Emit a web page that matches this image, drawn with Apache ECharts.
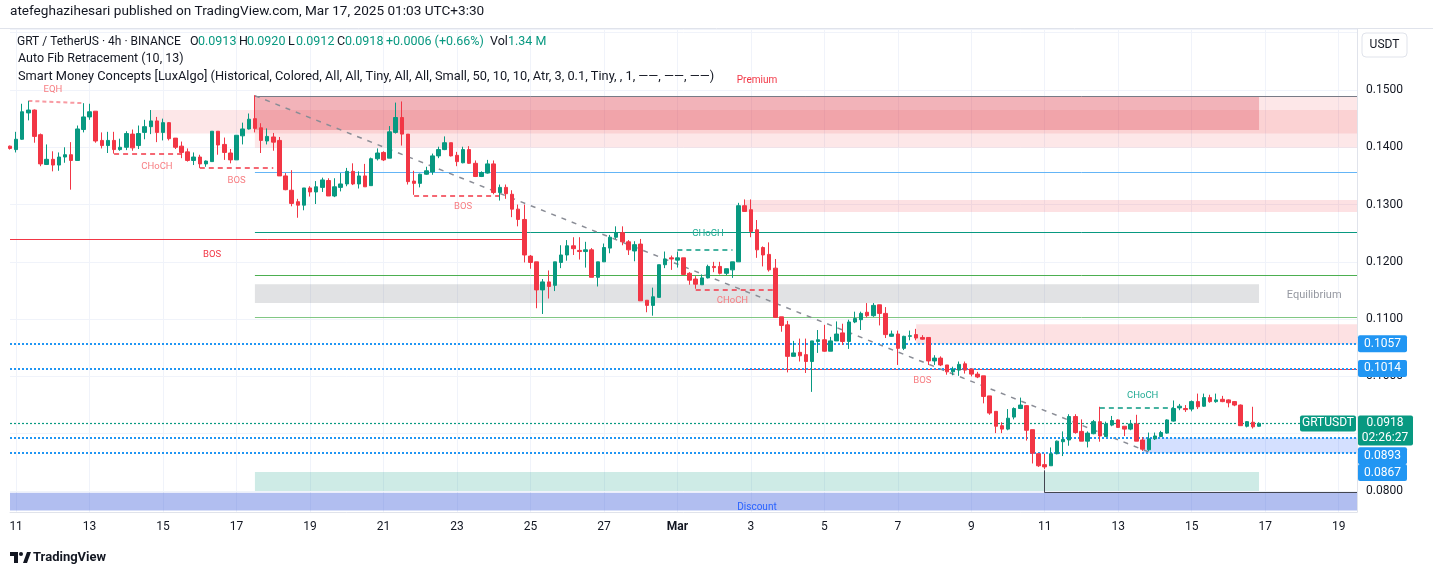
<!DOCTYPE html>
<html><head><meta charset="utf-8">
<script src="https://cdn.jsdelivr.net/npm/echarts/dist/echarts.min.js"></script>
<style>html,body{margin:0;padding:0;background:#fff}#c{width:1433px;height:576px}</style>
</head><body><div id="c"></div>
<script>
const tickLabels = ['11','13','15','17','19','21','23','25','27','Mar','3','5','7','9','11','13','15','17','19'];
const open = [
.1402,.1396,.1414,.1460,.1465,.1422,.1370,.1379,.1369,.1383,
.1387,.1377,.1431,.1453,.1463,.1412,.1403,.1412,.1396,.1400,
.1423,.1403,.1426,.1436,.1446,.1426,.1443,.1416,.1402,.1392,
.1377,.1383,.1371,.1375,.1428,.1405,.1390,.1378,.1420,.1432,
.1450,.1434,.1411,.1418,.1412,.1350,.1325,.1305,.1299,.1329,
.1322,.1330,.1342,.1315,.1330,.1336,.1358,.1336,.1350,.1333,
.1380,.1391,.1381,.1426,.1452,.1423,.1341,.1337,.1353,.1357,
.1385,.1396,.1408,.1386,.1373,.1396,.1372,.1349,.1355,.1371,
.1321,.1330,.1318,.1292,.1274,.1210,.1200,.1151,.1165,.1159,
.1199,.1212,.1228,.1220,.1218,.1221,.1173,.1200,.1224,.1243,
.1251,.1235,.1219,.1231,.1133,.1124,.1138,.1195,.1207,.1203,
.1207,.1180,.1170,.1160,.1172,.1192,.1192,.1180,.1186,.1200,
.1298,.1291,.1256,.1225,.1213,.1189,.1104,.1090,.1035,.1042,
.1038,.1026,.1061,.1064,.1044,.1062,.1076,.1061,.1095,.1099,
.1112,.1106,.1125,.1110,.1070,.1074,.1049,.1070,.1073,.1068,
.1068,.1027,.1032,.1020,.1008,.1011,.1022,.1013,.1004,.1001,
.0966,.0939,.0914,.0908,.0929,.0944,.0949,.0907,.0865,.0846,
.0844,.0865,.0886,.0889,.0930,.0904,.0887,.0900,.0921,.0895,
.0915,.0924,.0913,.0908,.0917,.0889,.0872,.0891,.0895,.0901,
.0922,.0945,.0944,.0943,.0956,.0948,.0963,.0956,.0960,.0959,
.0956,.0950,.0913,.0920,.0913];
const close = [
.1398,.1414,.1462,.1465,.1419,.1371,.1379,.1369,.1383,.1387,
.1377,.1432,.1453,.1462,.1411,.1403,.1412,.1396,.1400,.1424,
.1399,.1424,.1436,.1446,.1426,.1443,.1415,.1400,.1391,.1377,
.1383,.1371,.1376,.1428,.1404,.1391,.1378,.1421,.1432,.1449,
.1433,.1412,.1419,.1409,.1350,.1326,.1302,.1299,.1329,.1322,
.1331,.1343,.1315,.1331,.1336,.1358,.1336,.1350,.1331,.1380,
.1390,.1378,.1427,.1452,.1423,.1340,.1337,.1353,.1359,.1385,
.1396,.1408,.1385,.1375,.1396,.1372,.1349,.1356,.1371,.1321,
.1330,.1319,.1292,.1274,.1212,.1199,.1151,.1165,.1157,.1200,
.1212,.1228,.1223,.1218,.1221,.1173,.1200,.1225,.1243,.1251,
.1235,.1221,.1230,.1132,.1124,.1139,.1195,.1205,.1205,.1207,
.1178,.1168,.1161,.1172,.1192,.1190,.1180,.1188,.1200,.1298,
.1288,.1253,.1221,.1212,.1186,.1103,.1089,.1035,.1041,.1036,
.1026,.1062,.1064,.1044,.1062,.1074,.1061,.1095,.1101,.1110,
.1106,.1124,.1110,.1073,.1074,.1049,.1070,.1071,.1067,.1065,
.1027,.1032,.1020,.1008,.1013,.1021,.1011,.1004,.0999,.0965,
.0936,.0913,.0908,.0927,.0944,.0950,.0906,.0866,.0844,.0842,
.0865,.0887,.0890,.0930,.0902,.0887,.0901,.0921,.0896,.0917,
.0923,.0911,.0908,.0917,.0887,.0873,.0891,.0896,.0902,.0924,
.0944,.0948,.0942,.0956,.0947,.0963,.0956,.0959,.0956,.0954,
.0950,.0914,.0921,.0912,.0918];
const low = [
.1396,.1391,.1413,.1447,.1408,.1367,.1369,.1358,.1359,.1373,
.1326,.1377,.1426,.1448,.1408,.1398,.1390,.1389,.1394,.1395,
.1394,.1397,.1414,.1423,.1409,.1412,.1412,.1397,.1381,.1375,
.1369,.1364,.1366,.1375,.1387,.1378,.1372,.1378,.1405,.1431,
.1426,.1390,.1405,.1394,.1350,.1325,.1297,.1277,.1290,.1314,
.1301,.1322,.1315,.1313,.1323,.1332,.1334,.1328,.1331,.1333,
.1377,.1376,.1381,.1424,.1403,.1335,.1317,.1330,.1352,.1352,
.1381,.1395,.1384,.1367,.1372,.1371,.1348,.1348,.1354,.1318,
.1307,.1310,.1278,.1262,.1199,.1188,.1119,.1109,.1136,.1149,
.1189,.1202,.1212,.1204,.1190,.1173,.1157,.1200,.1215,.1240,
.1229,.1212,.1201,.1132,.1112,.1106,.1138,.1189,.1186,.1190,
.1177,.1160,.1153,.1160,.1171,.1182,.1178,.1177,.1172,.1200,
.1287,.1243,.1207,.1192,.1183,.1103,.1078,.1007,.1035,.1026,
.1006,.0973,.1041,.1043,.1044,.1062,.1055,.1048,.1093,.1081,
.1103,.1104,.1089,.1067,.1069,.1020,.1046,.1063,.1063,.1064,
.1020,.1020,.1018,.1003,.1002,.1001,.1005,.1000,.0997,.0953,
.0933,.0901,.0901,.0906,.0925,.0943,.0888,.0848,.0842,.0838,
.0844,.0864,.0861,.0879,.0900,.0887,.0876,.0899,.0886,.0895,
.0913,.0910,.0896,.0906,.0887,.0870,.0870,.0889,.0894,.0900,
.0921,.0941,.0938,.0939,.0943,.0947,.0954,.0954,.0955,.0946,
.0948,.0914,.0911,.0909,.0912];
const high = [
.1403,.1427,.1476,.1481,.1466,.1424,.1405,.1393,.1391,.1400,
.1409,.1438,.1477,.1476,.1463,.1426,.1427,.1427,.1415,.1428,
.1431,.1438,.1448,.1465,.1453,.1450,.1444,.1416,.1410,.1398,
.1391,.1387,.1377,.1428,.1428,.1417,.1397,.1421,.1443,.1459,
.1491,.1442,.1433,.1425,.1418,.1355,.1360,.1310,.1329,.1332,
.1341,.1347,.1346,.1346,.1355,.1364,.1372,.1358,.1371,.1382,
.1398,.1393,.1437,.1478,.1480,.1423,.1359,.1354,.1366,.1389,
.1401,.1419,.1408,.1392,.1401,.1402,.1377,.1358,.1378,.1377,
.1335,.1335,.1325,.1300,.1300,.1212,.1200,.1170,.1185,.1200,
.1229,.1238,.1243,.1243,.1235,.1224,.1200,.1232,.1247,.1262,
.1262,.1238,.1236,.1240,.1133,.1155,.1195,.1218,.1211,.1218,
.1207,.1182,.1175,.1178,.1195,.1200,.1200,.1188,.1200,.1303,
.1309,.1309,.1273,.1227,.1234,.1205,.1104,.1097,.1062,.1066,
.1066,.1062,.1081,.1090,.1069,.1096,.1092,.1099,.1113,.1113,
.1128,.1128,.1125,.1121,.1080,.1080,.1071,.1080,.1083,.1072,
.1068,.1037,.1035,.1020,.1017,.1026,.1026,.1013,.1008,.1001,
.0966,.0939,.0920,.0943,.0946,.0963,.0950,.0907,.0865,.0865,
.0876,.0888,.0904,.0934,.0934,.0925,.0904,.0924,.0947,.0921,
.0931,.0925,.0913,.0924,.0933,.0894,.0902,.0902,.0905,.0925,
.0958,.0952,.0950,.0958,.0970,.0970,.0968,.0970,.0966,.0960,
.0957,.0951,.0922,.0947,.0920];

// Auto Fib levels: [startIndex, price]
const fibLevels = [[40,0.1489],[40,0.1357],[40,0.1252],[40,0.1177],[40,0.1103]];
const fibColors = ['#787b86','#64b5f6','#089981','#4caf50','#81c784'];
// zones: [startIndex, endIndex, top, bottom]
const zones = [
  [40,220,0.1489,0.1399],
  [23,220,0.1465,0.1424],
  [40,204,0.1489,0.1430],
  [120,220,0.1308,0.1287],
  [148,220,0.1091,0.1056],
  [40,204,0.1161,0.1128],
  [40,204,0.0833,0.0800],
  [185,220,0.0893,0.0866],
  [0,220,0.0797,0.0766]
];
const zoneColors = ['rgba(242,54,69,0.12)','rgba(242,54,69,0.12)','rgba(220,60,75,0.30)','rgba(242,54,69,0.15)','rgba(242,54,69,0.15)','rgba(120,123,134,0.22)','rgba(8,153,129,0.20)','rgba(41,98,255,0.20)','rgba(70,100,220,0.42)'];
// structure lines: [i1, p1, i2, p2]
const structLines = [
  [3,0.1481,12,0.1477],
  [17,0.1388,29,0.1388],
  [31,0.1364,43,0.1364],
  [66,0.1316,80,0.1316],
  [109,0.1221,118,0.1221],
  [112,0.1152,125,0.1152],
  [178,0.0945,190,0.0945],
  [0,0.1240,84,0.1240],
  [120,0.1012,220,0.1012],
  [169,0.0836,169,0.0797],
  [169,0.0797,220,0.0797]
];
const structStyles = [
  {color:'rgba(242,54,69,0.5)',type:[4,3],width:2},
  {color:'#f23645',type:[5,4],width:1.5},
  {color:'#f23645',type:[5,4],width:1.5},
  {color:'#f23645',type:[5,4],width:1.5},
  {color:'#089981',type:[5,4],width:1.5},
  {color:'#f23645',type:[5,4],width:1.5},
  {color:'#089981',type:[5,4],width:1.5},
  {color:'#f23645',type:'solid',width:1},
  {color:'#f23645',type:'solid',width:1},
  {color:'#434651',type:'solid',width:1},
  {color:'#434651',type:'solid',width:1}
];
const trendLine = [40,0.1490,186,0.0868];
const priceLines = [0.1057,0.1014,0.0893,0.0867];
const priceLabelShift = [0,0,18,20];
const lastPrice = 0.0918;
// annotation texts: [text, index, price]
const notes = [
  ['EQH',7,0.1500],['CHoCH',24,0.1367],['BOS',37,0.1342],['BOS',33,0.1212],['BOS',74,0.1296],
  ['Premium',122,0.1517],['CHoCH',114,0.1249],['CHoCH',118,0.1132],['Equilibrium',213,0.1142],
  ['BOS',149,0.0992],['CHoCH',185,0.0967],['Discount',122,0.0771]
];
const noteColors = ['#f77c80','#f77c80','#f77c80','#f23645','#f77c80','#f23645','#22ab94','#f77c80','#9598a1','#f77c80','#22ab94','#2962ff'];

const FONT = 'Roboto, "Noto Sans", sans-serif';
const NCAT = 221;
const categories = [];
for (let i = 0; i < NCAT; i++) categories.push(String(i));
const candleData = open.map((o, i) => [o, close[i], low[i], high[i]]);

const chart = echarts.init(document.getElementById('c'));

const zoneData = zones.map((z, k) => [
  {coord:[z[0], z[2]], itemStyle:{color: zoneColors[k]}},
  {coord:[z[1], z[3]]}
]);
const levelData = fibLevels.map((f, k) => [
  {coord:[f[0], f[1]], lineStyle:{color: fibColors[k], width:1, type:'solid'}},
  {coord:[220, f[1]]}
]);
structLines.forEach((s, k) => levelData.push([
  {coord:[s[0], s[1]], lineStyle: structStyles[k]},
  {coord:[s[2], s[3]]}
]));
levelData.push([
  {coord:[trendLine[0], trendLine[1]], lineStyle:{color:'#8a8d96', type:[5,6], width:1.5}},
  {coord:[trendLine[2], trendLine[3]]}
]);
const priceLineData = priceLines.map(v => ({yAxis: v, lineStyle:{color:'#2196f3', type:[2,2], width:2}}));
priceLineData.push({yAxis: lastPrice, lineStyle:{color:'#089981', type:[2,2], width:1.2}});

chart.setOption({
  animation: false,
  backgroundColor: '#ffffff',
  textStyle: {fontFamily: FONT},
  grid: {left:10, right:76, top:29, bottom:64},
  xAxis: {
    type:'category', data: categories, boundaryGap:false,
    axisLine:{show:true, lineStyle:{color:'#e0e3eb'}}, axisTick:{show:false},
    axisLabel:{
      interval: (i) => i % 12 === 1,
      formatter: (v, i) => { const t = tickLabels[(i - 1) / 12] || ''; return t === 'Mar' ? '{b|Mar}' : t; },
      color:'#131722', fontSize:12, margin:9, fontFamily: FONT,
      rich:{b:{fontWeight:'bold', fontSize:12, color:'#131722', fontFamily: FONT}}
    },
    splitLine:{show:true, interval: (i) => i % 12 === 1, lineStyle:{color:'#f0f3fa'}}
  },
  yAxis: {
    type:'value', position:'right', min:0.07633, max:0.16065, splitNumber:8, scale:true,
    axisLine:{show:true, lineStyle:{color:'#e0e3eb'}}, axisTick:{show:false},
    axisLabel:{
      formatter: (v) => { const k = Math.round(v * 100); if (Math.abs(v * 100 - k) > 1e-6 || k >= 16) return ''; return (k / 100).toFixed(4); },
      color:'#131722', fontSize:12, margin:9, fontFamily: FONT
    },
    splitLine:{show:true, lineStyle:{color:'#f0f3fa'}}
  },
  series: [
    {name:'zones', type:'line', data:[], z:1, silent:true, markArea:{silent:true, data: zoneData}},
    {name:'levels', type:'line', data:[], z:2, silent:true,
      markLine:{silent:true, precision:6, symbol:['none','none'], label:{show:false}, data: levelData}},
    {name:'GRTUSDT', type:'candlestick', data: candleData, z:5, barWidth:4,
      itemStyle:{color:'#089981', color0:'#f23645', borderColor:'#089981', borderColor0:'#f23645', borderWidth:1}},
    {name:'prices', type:'line', data:[], z:6, silent:true,
      markLine:{silent:true, precision:6, symbol:['none','none'], label:{show:false}, data: priceLineData}}
  ]
});

function P(i, v) { return chart.convertToPixel({gridIndex:0}, [i, v]); }
const g = [];
const T = (text, x, y, fill, font, z, align) => ({type:'text', x:x, y:y, z:z || 100,
  style:{text:text, fill:fill, font:font, align:align || 'left', textAlign:align || 'left', verticalAlign:'middle', textVerticalAlign:'middle'}});
// header
g.push(T('atefeghazihesari published on TradingView.com, Mar 17, 2025 01:03 UTC+3:30', 10, 12, '#131722', '13.6px ' + FONT));
g.push({type:'line', z:100, shape:{x1:0, y1:28.5, x2:1433, y2:28.5}, style:{stroke:'#e0e3eb', lineWidth:1}});
g.push(T('GRT / TetherUS · 4h · BINANCE', 17, 42, '#131722', '12px ' + FONT));
const legendParts = [
  ['O',190,'#131722'],['0.0913',198,'#089981'],
  ['H',239,'#131722'],['0.0920',247,'#089981'],['L',288,'#131722'],['0.0912',296,'#089981'],
  ['C',337,'#131722'],['0.0918',345,'#089981'],['+0.0006 (+0.66%)',386,'#089981'],
  ['Vol',490,'#131722'],['1.34 M',508,'#089981']
];
legendParts.forEach(p => g.push(T(p[0], p[1], 42, p[2], '12.5px ' + FONT)));
g.push(T('Auto Fib Retracement (10, 13)', 18, 59, '#131722', '12.5px ' + FONT));
g.push(T('Smart Money Concepts [LuxAlgo] (Historical, Colored, All, All, Tiny, All, All, Small, 50, 10, 10, Atr, 3, 0.1, Tiny, , 1, \u2014\u2014, \u2014\u2014, \u2014\u2014)', 18, 77, '#131722', '12.8px ' + FONT));
// annotation texts
notes.forEach((n, k) => {
  const p = P(n[1], n[2]);
  const fs = n[0] === 'Equilibrium' ? 11 : (n[0] === 'Premium' || n[0] === 'Discount' ? 10 : 9.5);
  g.push(T(n[0], p[0], p[1], noteColors[k], fs + 'px ' + FONT, 50, 'center'));
});
// axis price boxes
priceLines.forEach((v, k) => {
  const y = P(0, v)[1] + priceLabelShift[k];
  g.push({type:'rect', z:60, shape:{x:1358, y:y - 8.5, width:49, height:17, r:2}, style:{fill:'#2196f3'}});
  g.push(T(v.toFixed(4), 1382.5, y, '#ffffff', '12px ' + FONT, 61, 'center'));
});
{
  const y = P(0, lastPrice)[1];
  g.push({type:'rect', z:62, shape:{x:1358, y:y - 8, width:55, height:30, r:2}, style:{fill:'#089981'}});
  g.push(T(lastPrice.toFixed(4), 1385, y, '#ffffff', '12px ' + FONT, 63, 'center'));
  g.push(T('02:26:27', 1385, y + 15, '#ffffff', '12px ' + FONT, 63, 'center'));
  g.push({type:'rect', z:62, shape:{x:1300, y:y - 8, width:56, height:16, r:2}, style:{fill:'#089981'}});
  g.push(T('GRTUSDT', 1328, y, '#ffffff', '12px ' + FONT, 63, 'center'));
}
// USDT currency box
g.push({type:'rect', z:60, shape:{x:1362, y:33, width:45, height:24, r:4}, style:{fill:'#ffffff', stroke:'#e0e3eb', lineWidth:1}});
g.push(T('USDT', 1384.5, 45, '#131722', '12px ' + FONT, 61, 'center'));
// TradingView logo
g.push({type:'polygon', z:60, shape:{points:[[10,552],[18,552],[18,563],[14,563],[14,556],[10,556]]}, style:{fill:'#131722'}});
g.push({type:'circle', z:60, shape:{cx:21, cy:554, r:2}, style:{fill:'#131722'}});
g.push({type:'polygon', z:60, shape:{points:[[23,563],[27,552],[31,552],[27,563]]}, style:{fill:'#131722'}});
g.push(T('TradingView', 33, 558, '#131722', 'bold 13px ' + FONT, 60));

chart.setOption({graphic: g});
</script>
</body></html>
